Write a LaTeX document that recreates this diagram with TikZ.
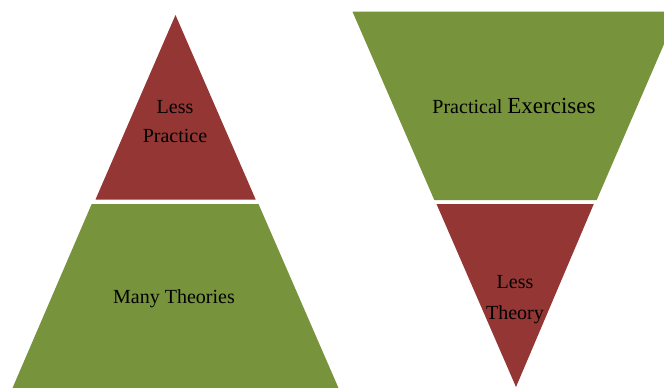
\documentclass[tikz,border=0pt]{standalone}
\usepackage{fontspec}
\setmainfont{Liberation Serif}
\usetikzlibrary{positioning}

\definecolor{pyrred}{HTML}{943634}
\definecolor{pyrgreen}{HTML}{77933C}

\begin{document}
\begin{tikzpicture}[
    x=1pt, y=-1pt,
    redpart/.style={fill=pyrred, draw=none},
    greenpart/.style={fill=pyrgreen, draw=none},
    textlabel/.style={align=center, text=black, inner sep=0pt,
                      font=\fontsize{20}{29}\selectfont}
]
    \useasboundingbox (0,0) rectangle (664,388);

    % Left pyramid
    \fill [redpart] (175.5,15) -- (255.7,199.5) -- (95.5,199.5) -- cycle;
    \fill [greenpart] (91.7,204) -- (258.5,204) -- (338.5,388) -- (12.5,388) -- cycle;

    % Right pyramid (upside down)
    \fill [greenpart] (352.5,11.7) -- (678,11.7) -- (596.7,200) -- (434.3,200) -- cycle;
    \fill [redpart] (436.5,204) -- (593.8,204) -- (516,387) -- cycle;

    % Labels
    \node (practice) [textlabel] at (175,122) {Less\\Practice};
    \node (theories) [textlabel] at (174,299) {Many Theories};
    \node (exercises) [textlabel] at (514,106) {Practical {\fontsize{23}{29}\selectfont Exercises}};
    \node (theory) [textlabel, font=\fontsize{20}{31}\selectfont] at (515,300) {Less\\Theory};

\end{tikzpicture}
\end{document}
